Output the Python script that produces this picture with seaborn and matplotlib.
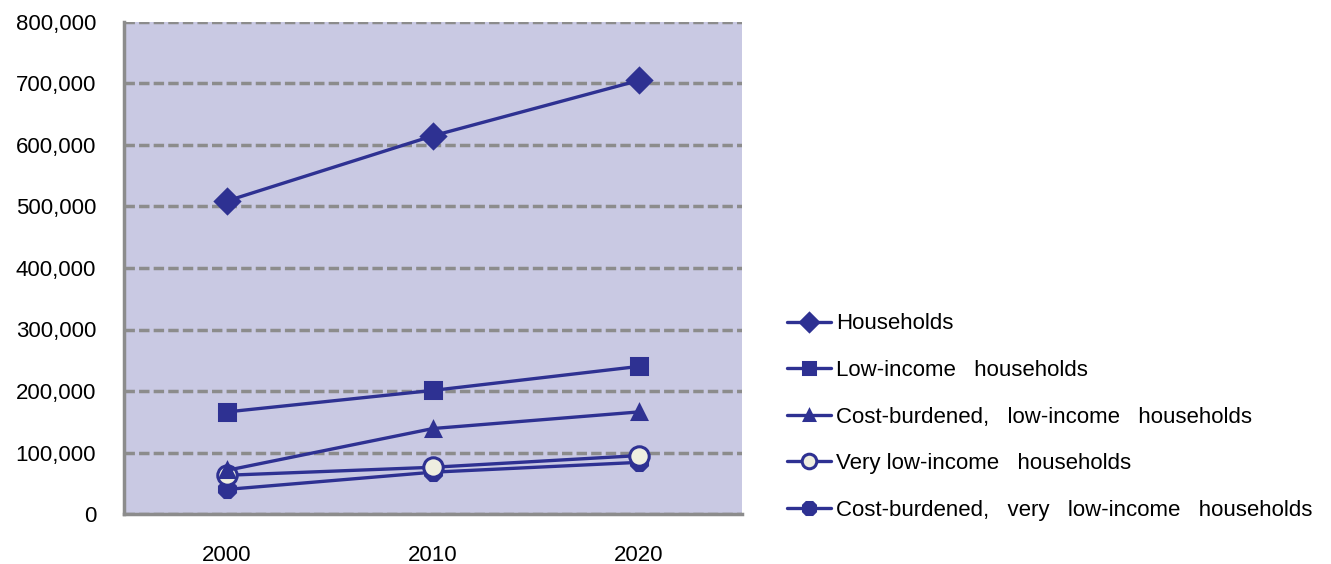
import matplotlib
matplotlib.use("Agg")
import matplotlib.pyplot as plt
import seaborn as sns
import pandas as pd
from matplotlib.ticker import FuncFormatter, FixedLocator

years = ["2000", "2010", "2020"]
households = [509000, 615000, 705000]
low_income = [166000, 201000, 240000]
cost_burdened_low = [71000, 139000, 166000]
very_low_income = [63000, 76000, 95000]
cost_burdened_very_low = [40000, 68000, 84000]

series_names = [
    "Households",
    "Low-income   households",
    "Cost-burdened,   low-income   households",
    "Very low-income   households",
    "Cost-burdened,   very   low-income   households",
]
series_values = [households, low_income, cost_burdened_low,
                 very_low_income, cost_burdened_very_low]

navy = "#2E3192"
grey = "#8C8C8C"
# marker, size, facecolor
styles = [
    ("D", 12, navy),
    ("s", 12, navy),
    ("^", 10, navy),
    ("o", 14, "#EEEEE0"),
    ("8", 13, navy),
]

sns.set_style("white")
plt.rcParams["font.family"] = ["Liberation Sans", "DejaVu Sans"]
plt.rcParams["text.color"] = "black"
plt.rcParams["xtick.labelcolor"] = "black"
plt.rcParams["ytick.labelcolor"] = "black"

fig = plt.figure(figsize=(13.31, 5.64), dpi=100)
ax = fig.add_axes([124 / 1331, 50 / 564, 618 / 1331, 492 / 564])
ax.set_facecolor("#C9C9E3")

# draw in reverse so the households line sits on top, legend keeps original order
for name, vals, (mk, ms, fc) in reversed(list(zip(series_names, series_values, styles))):
    df = pd.DataFrame({"year": years, "value": vals})
    sns.lineplot(data=df, x="year", y="value", ax=ax, color=navy, lw=2.4,
                 marker=mk, markersize=ms, markerfacecolor=fc,
                 markeredgecolor=navy, markeredgewidth=2.2, label=name)

ax.set_xlim(-0.5, 2.5)
ax.set_ylim(0, 800000)
ax.set_yticks(range(0, 800001, 100000))
ax.yaxis.set_major_formatter(FuncFormatter(lambda v, p: f"{int(v):,}"))
ax.xaxis.set_minor_locator(FixedLocator([-0.5, 0.5, 1.5, 2.5]))
ax.tick_params(axis="x", which="major", length=0, pad=22, labelsize=16)
ax.tick_params(axis="x", which="minor", length=7, width=2.5, color=grey, direction="out")
ax.tick_params(axis="y", length=8, width=2.5, color=grey, direction="out", pad=12, labelsize=16)
ax.set_xlabel("")
ax.set_ylabel("")

ax.grid(axis="y", color=grey, linestyle=(0, (3, 1.2)), lw=2.5)
ax.set_axisbelow(True)
for side in ["top", "right"]:
    ax.spines[side].set_visible(False)
for side in ["left", "bottom"]:
    ax.spines[side].set_color(grey)
    ax.spines[side].set_linewidth(2.5)

h, l = ax.get_legend_handles_labels()
order = [l.index(n) for n in series_names]
ax.legend([h[i] for i in order], [l[i] for i in order], loc="center left",
          bbox_to_anchor=(787 / 1331, 1 - 417 / 564), bbox_transform=fig.transFigure,
          frameon=False, fontsize=16, handlelength=2.0, handletextpad=0.2,
          labelspacing=1.15, borderaxespad=0, borderpad=0, markerscale=0.75)

fig.savefig("out.png", dpi=100)
